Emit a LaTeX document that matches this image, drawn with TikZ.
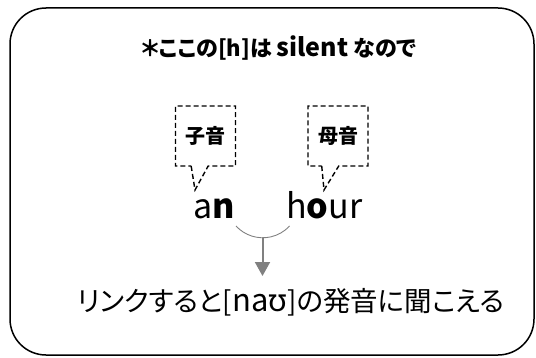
\documentclass[tikz,border=0pt]{standalone}
\usepackage{fontspec}
\usepackage{xcolor}
\usetikzlibrary{shapes.callouts,arrows.meta}
\setmainfont{Noto Sans CJK JP}[RawFeature=+palt]
\newfontfamily\ipafont{Noto Sans}
\definecolor{ink}{HTML}{000000}
\definecolor{linkgray}{HTML}{808080}
\tikzset{
  frame/.style={draw=ink, line width=1.5pt, rounded corners=36pt},
  callbox/.style={rectangle callout, draw=ink, line width=1.4pt, dash pattern=on 5pt off 3pt,
    minimum width=60pt, minimum height=60pt, callout pointer width=17pt,
    font=\fontsize{20}{20}\selectfont\bfseries},
  word/.style={font=\fontsize{34}{34}\selectfont, inner sep=0pt, anchor=base west},
  lab/.style={text=ink},
  linkarc/.style={draw=linkgray, line width=0.9pt},
  linkarrow/.style={draw=linkgray, line width=2pt, -{Triangle[length=14pt,width=15pt]}},
}
\begin{document}
\begin{tikzpicture}[x=1pt,y=1pt]
  \useasboundingbox (0,0) rectangle (536,357);
  \draw[frame] (10,2) rectangle (534,349);

  \node[lab, font=\fontsize{22}{22}\selectfont\bfseries] (title) at (279,309) {＊ここの[h]は {\fontsize{25}{25}\selectfont silent} なので};

  % the two words
  \node[lab, word] (an) at (193,139) {a\textbf{n}};
  \node[lab, word] (hour) at (286,139) {h\textbf{o}ur};

  % dashed callouts
  \coordinate (antip) at (195,167);
  \coordinate (hourtip) at (324,167);
  \node[lab, callbox, callout absolute pointer=(antip)] (shiin) at (205.5,221) {子音};
  \node[lab, callbox, callout absolute pointer=(hourtip)] (boin) at (338,221) {母音};

  % link arc and arrow
  \coordinate (arcL) at (236,131);
  \coordinate (arcmid) at (262.5,119);
  \coordinate (arrowend) at (262.5,81);
  \draw[linkarc] (arcL) arc[start angle=222.6, end angle=317.4, radius=36.4];
  \draw[linkarrow] (arcmid) -- (arrowend);

  \node[lab, font=\fontsize{27.5}{27.5}\selectfont] (link) at (291,55) {リンクすると[{\fontsize{31}{31}\selectfont na{\ipafont ʊ}}]の発音に聞こえる};
\end{tikzpicture}
\end{document}
